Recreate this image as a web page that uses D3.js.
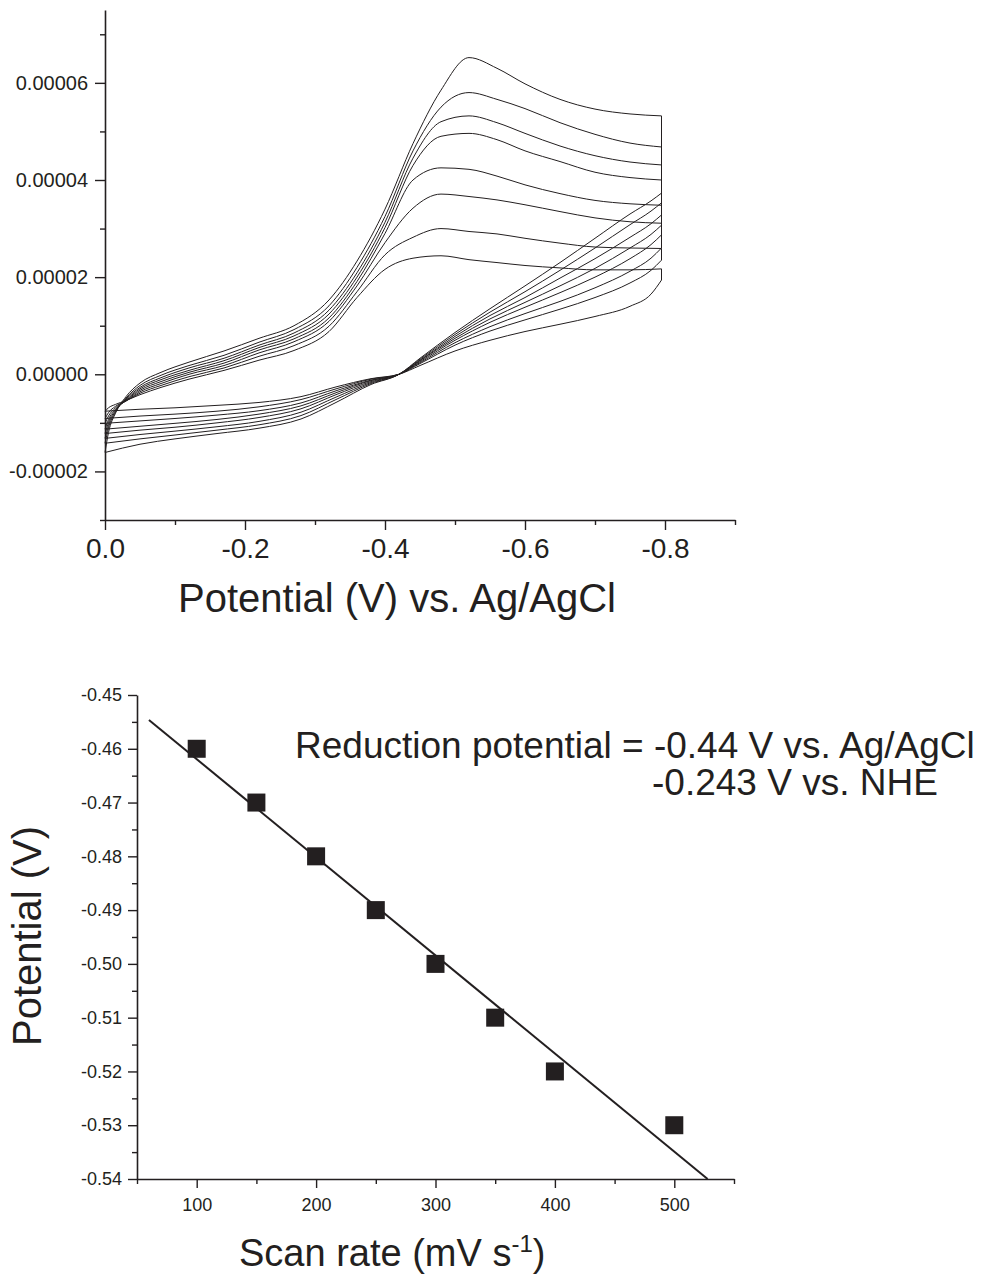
<!DOCTYPE html>
<html>
<head>
<meta charset="utf-8">
<script src="https://cdn.jsdelivr.net/npm/d3@7"></script>
<style>
  body { margin: 0; background: #fff; }
  svg text { font-family: "Liberation Sans", Arial, sans-serif; fill: #231f20; }
</style>
</head>
<body>
<svg id="chart" width="985" height="1278"></svg>
<script>
// ---- top panel: cyclic voltammograms (current in microamps) ----
const uA = 1e-6;

const potentialFwd = [0, -0.005, -0.015, -0.03, -0.05, -0.08, -0.12, -0.17, -0.22, -0.27, -0.32,
  -0.36, -0.40, -0.44, -0.48, -0.52, -0.56, -0.60, -0.65, -0.70, -0.75, -0.795];
const potentialRev = [-0.795, -0.78, -0.75, -0.70, -0.65, -0.60, -0.55, -0.50, -0.45, -0.42,
  -0.38, -0.33, -0.28, -0.22, -0.16, -0.10, -0.05, 0];

// forward sweep, one list per scan rate (slowest first)
const fwd100 = [-7.6, -6.9, -6.2, -5.4, -4.2, -2.7, -1.0, 0.8, 2.9, 4.9, 8.8, 15.8, 21.6, 23.9, 24.4, 23.6, 23.0, 22.4, 21.9, 21.5, 21.5, 21.7];
const fwd150 = [-9.1, -7.9, -6.6, -5.5, -3.9, -2.3, -0.5, 1.3, 3.7, 5.9, 9.9, 17.0, 24.6, 28.2, 30.0, 29.4, 28.9, 28.0, 27.0, 26.2, 26.0, 25.9];
const fwd200 = [-10.1, -8.6, -6.9, -5.5, -3.6, -1.9, 0.0, 1.8, 4.4, 6.7, 10.9, 18.2, 27.1, 34.2, 37.1, 36.6, 35.9, 34.9, 33.5, 32.2, 31.4, 31.1];
const fwd250 = [-11.3, -9.3, -7.2, -5.4, -3.3, -1.5, 0.4, 2.3, 5.0, 7.3, 11.6, 19.1, 29.0, 40.0, 42.5, 42.2, 40.8, 39.0, 37.2, 35.8, 35.1, 34.8];
const fwd300 = [-12.2, -9.9, -7.4, -5.3, -3.0, -1.1, 0.8, 2.8, 5.5, 7.9, 12.4, 20.0, 30.2, 43.0, 49.0, 49.6, 48.3, 46.0, 43.8, 41.6, 40.5, 40.0];
const fwd350 = [-13.2, -10.5, -7.6, -5.1, -2.7, -0.7, 1.3, 3.3, 6.0, 8.5, 13.2, 20.9, 31.3, 44.5, 52.0, 53.2, 51.8, 49.6, 47.0, 45.0, 43.7, 43.1];
const fwd400 = [-14.2, -11.1, -7.8, -4.9, -2.3, -0.2, 1.8, 3.9, 6.6, 9.2, 14.1, 22.0, 32.5, 46.0, 55.0, 58.0, 56.6, 54.7, 51.8, 49.4, 47.6, 46.8];
const fwd500 = [-16.1, -12.0, -8.0, -4.6, -1.8, 0.4, 2.5, 4.8, 7.4, 10.0, 15.3, 23.3, 34.0, 47.5, 58.5, 65.2, 63.0, 59.8, 56.6, 54.6, 53.6, 53.2];

// reverse sweep
const rev100 = [19.4, 16.5, 14.0, 11.9, 10.3, 8.8, 7.0, 4.8, 1.8, 0, -0.9, -2.6, -4.6, -5.8, -6.4, -6.9, -7.2, -7.6];
const rev150 = [23.5, 21.4, 18.8, 15.8, 13.4, 11.2, 8.9, 6.0, 2.2, 0, -1.0, -3.0, -5.2, -6.7, -7.6, -8.2, -8.6, -9.1];
const rev200 = [26.0, 23.9, 21.2, 17.8, 15.0, 12.5, 9.8, 6.5, 2.4, 0, -1.2, -3.4, -5.9, -7.5, -8.4, -9.1, -9.6, -10.1];
const rev250 = [28.7, 26.7, 23.8, 20.0, 16.8, 13.8, 10.7, 7.0, 2.6, 0, -1.3, -3.8, -6.5, -8.2, -9.3, -10.1, -10.7, -11.3];
const rev300 = [30.7, 28.8, 26.0, 21.8, 18.2, 14.8, 11.4, 7.4, 2.8, 0, -1.5, -4.2, -7.1, -8.9, -10.0, -10.9, -11.5, -12.2];
const rev350 = [32.8, 31.0, 28.2, 23.8, 19.8, 15.8, 12.1, 7.8, 2.9, 0, -1.7, -4.7, -7.8, -9.7, -10.8, -11.7, -12.4, -13.2];
const rev400 = [35.3, 33.6, 30.8, 26.0, 21.4, 17.0, 12.8, 8.2, 3.1, 0, -1.9, -5.2, -8.5, -10.4, -11.5, -12.5, -13.3, -14.2];
const rev500 = [37.3, 35.7, 33.0, 28.0, 23.0, 18.2, 13.5, 8.6, 3.3, 0, -2.1, -5.8, -9.2, -11.1, -12.2, -13.3, -14.4, -16.1];

const cvMajorY = [-0.00002, 0, 0.00002, 0.00004, 0.00006];
const cvYLabels = ["-0.00002", "0.00000", "0.00002", "0.00004", "0.00006"];
const cvMinorY = [-0.00003, -0.00001, 0.00001, 0.00003, 0.00005, 0.00007];
const cvMajorX = [0, -0.2, -0.4, -0.6, -0.8];
const cvXLabels = ["0.0", "-0.2", "-0.4", "-0.6", "-0.8"];
const cvMinorX = [-0.1, -0.3, -0.5, -0.7, -0.9];

// ---- bottom panel: peak potential vs scan rate ----
const scanRates = [100, 150, 200, 250, 300, 350, 400, 500];
const peakPotentials = [-0.46, -0.47, -0.48, -0.49, -0.50, -0.51, -0.52, -0.53];
const fitStart = 60;

const srMajorX = [100, 200, 300, 400, 500];
const srMinorX = [50, 150, 250, 350, 450, 550];
const epMajorY = [-0.45, -0.46, -0.47, -0.48, -0.49, -0.50, -0.51, -0.52, -0.53, -0.54];
const epYLabels = ["-0.45", "-0.46", "-0.47", "-0.48", "-0.49", "-0.50", "-0.51", "-0.52", "-0.53", "-0.54"];
const epMinorY = [-0.455, -0.465, -0.475, -0.485, -0.495, -0.505, -0.515, -0.525, -0.535];

const ink = "#231f20";
const svg = d3.select("#chart");

function styleAxis(g, fontSize) {
  g.attr("font-family", null).attr("font-size", null);
  g.selectAll("path.domain").attr("stroke", ink).attr("stroke-width", 1.6);
  g.selectAll(".tick line").attr("stroke", ink).attr("stroke-width", 1.4);
  g.selectAll(".tick text").style("font-size", fontSize + "px").attr("fill", ink);
}

// top panel
const xTop = d3.scaleLinear().domain([0, -0.9]).range([105, 735]);
const yTop = d3.scaleLinear().domain([-0.00003, 0.000075]).range([520, 10]);

svg.append("g")
  .attr("transform", "translate(105,0)")
  .call(d3.axisLeft(yTop).tickValues(cvMinorY).tickSize(5).tickSizeOuter(0).tickFormat(""))
  .call(g => styleAxis(g, 20));
svg.append("g")
  .attr("transform", "translate(105,0)")
  .call(d3.axisLeft(yTop).tickValues(cvMajorY).tickSize(10).tickSizeOuter(0).tickPadding(7)
    .tickFormat((d, i) => cvYLabels[i]))
  .call(g => g.select(".domain").remove())
  .call(g => styleAxis(g, 20));

svg.append("g")
  .attr("transform", "translate(0,520)")
  .call(d3.axisBottom(xTop).tickValues(cvMinorX).tickSize(5).tickSizeOuter(0).tickFormat(""))
  .call(g => styleAxis(g, 28));
svg.append("g")
  .attr("transform", "translate(0,520)")
  .call(d3.axisBottom(xTop).tickValues(cvMajorX).tickSize(10).tickSizeOuter(0).tickPadding(8)
    .tickFormat((d, i) => cvXLabels[i]))
  .call(g => g.select(".domain").remove())
  .call(g => styleAxis(g, 28));

svg.append("text")
  .attr("x", 397).attr("y", 612)
  .attr("text-anchor", "middle")
  .style("font-size", "40px")
  .text("Potential (V) vs. Ag/AgCl");

const forward = [fwd100, fwd150, fwd200, fwd250, fwd300, fwd350, fwd400, fwd500];
const reverse = [rev100, rev150, rev200, rev250, rev300, rev350, rev400, rev500];

const cvLine = d3.line()
  .x(d => xTop(d[0]))
  .y(d => yTop(d[1] * uA))
  .curve(d3.curveMonotoneX);

const cv = svg.append("g")
  .attr("fill", "none")
  .attr("stroke", ink)
  .attr("stroke-width", 1);

forward.forEach((f, i) => {
  const r = reverse[i];
  const fPts = potentialFwd.map((e, k) => [e, f[k]]);
  const rPts = potentialRev.map((e, k) => [e, r[k]]).reverse();
  cv.append("path").attr("d", cvLine(fPts));
  cv.append("path").attr("d", cvLine(rPts));
  // switching potential: forward end drops to reverse start
  cv.append("line")
    .attr("x1", xTop(potentialFwd[potentialFwd.length - 1]))
    .attr("x2", xTop(potentialRev[0]))
    .attr("y1", yTop(f[f.length - 1] * uA))
    .attr("y2", yTop(r[0] * uA));
});

// bottom panel
const xBot = d3.scaleLinear().domain([50, 550]).range([137, 734]);
const yBot = d3.scaleLinear().domain([-0.54, -0.45]).range([1179, 695]);

svg.append("g")
  .attr("transform", "translate(137,0)")
  .call(d3.axisLeft(yBot).tickValues(epMinorY).tickSize(5).tickSizeOuter(0).tickFormat(""))
  .call(g => styleAxis(g, 18));
svg.append("g")
  .attr("transform", "translate(137,0)")
  .call(d3.axisLeft(yBot).tickValues(epMajorY).tickSize(9).tickSizeOuter(0).tickPadding(6)
    .tickFormat((d, i) => epYLabels[i]))
  .call(g => g.select(".domain").remove())
  .call(g => styleAxis(g, 18));

svg.append("g")
  .attr("transform", "translate(0,1179)")
  .call(d3.axisBottom(xBot).tickValues(srMinorX).tickSize(5).tickSizeOuter(0).tickFormat(""))
  .call(g => styleAxis(g, 18));
svg.append("g")
  .attr("transform", "translate(0,1179)")
  .call(d3.axisBottom(xBot).tickValues(srMajorX).tickSize(9).tickSizeOuter(0).tickPadding(10))
  .call(g => g.select(".domain").remove())
  .call(g => styleAxis(g, 18));

// least-squares line through the peak potentials
const mx = d3.mean(scanRates), my = d3.mean(peakPotentials);
const slope = d3.sum(scanRates, (x, i) => (x - mx) * (peakPotentials[i] - my)) /
  d3.sum(scanRates, x => (x - mx) * (x - mx));
const icept = my - slope * mx;
const fitEnd = (yBot.domain()[0] - icept) / slope;

svg.append("line")
  .attr("x1", xBot(fitStart)).attr("y1", yBot(icept + slope * fitStart))
  .attr("x2", xBot(fitEnd)).attr("y2", yBot(icept + slope * fitEnd))
  .attr("stroke", ink).attr("stroke-width", 2);

const sq = 18;
svg.append("g")
  .selectAll("rect")
  .data(scanRates)
  .join("rect")
  .attr("x", d => xBot(d) - sq / 2)
  .attr("y", (d, i) => yBot(peakPotentials[i]) - sq / 2)
  .attr("width", sq).attr("height", sq)
  .attr("fill", ink);

svg.append("text")
  .attr("transform", "translate(41,936) rotate(-90)")
  .attr("text-anchor", "middle")
  .style("font-size", "40px")
  .text("Potential (V)");

const xt = svg.append("text")
  .attr("x", 239).attr("y", 1266)
  .style("font-size", "38px");
xt.append("tspan").text("Scan rate (mV s");
xt.append("tspan").attr("dy", -14).style("font-size", "24px").text("-1");
xt.append("tspan").attr("dy", 14).text(")");

svg.append("text")
  .attr("x", 295).attr("y", 758)
  .style("font-size", "37px")
  .text("Reduction potential = -0.44 V vs. Ag/AgCl");
svg.append("text")
  .attr("x", 652).attr("y", 795)
  .style("font-size", "37px")
  .text("-0.243 V vs. NHE");
</script>
</body>
</html>
